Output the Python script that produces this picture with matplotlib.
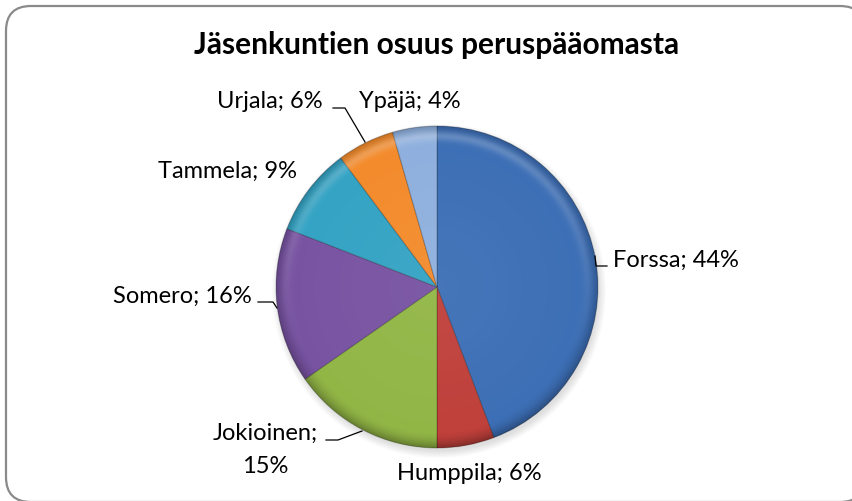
import numpy as np
import matplotlib
matplotlib.use("Agg")
import matplotlib.pyplot as plt
from matplotlib.patches import FancyBboxPatch, Circle

# chart data
kunnat = ["Forssa", "Humppila", "Jokioinen", "Somero", "Tammela", "Urjala", "Ypäjä"]
osuudet = [44.25, 5.75, 15.3, 15.6, 8.9, 5.75, 4.45]
pct_labels = [44, 6, 15, 16, 9, 6, 4]
colors = ["#3d6fb6", "#c0403b", "#92b646", "#7853a2", "#34a3c4", "#f38b2c", "#8fb0de"]
title = "Jäsenkuntien osuus peruspääomasta"

W, H = 853, 502
plt.rcParams['font.family'] = ['Lato', 'DejaVu Sans']

fig = plt.figure(figsize=(W / 100, H / 100), dpi=100)
ax = fig.add_axes([0, 0, 1, 1])
ax.set_xlim(0, W)
ax.set_ylim(0, H)
ax.set_aspect('equal')
ax.axis('off')

def py(y):
    # pixel row -> data y
    return H - y

# rounded frame
frame = FancyBboxPatch((6, py(503)), 859, 496, boxstyle="round,pad=0,rounding_size=25",
                       facecolor="white", edgecolor="#8a8a8a", linewidth=1.6, zorder=0)
ax.add_patch(frame)

cx, cy, R = 437, py(288), 161

# soft shadow under the pie
for k in range(8):
    ax.add_patch(Circle((cx + 2, cy - 4), R + 6 - k, facecolor="black",
                        alpha=0.015, edgecolor="none", zorder=1))

wedges, _ = ax.pie(osuudet, colors=colors, startangle=90, counterclock=False,
                   center=(cx, cy), radius=R,
                   wedgeprops=dict(edgecolor=(0, 0, 0, 0.22), linewidth=0.8))
for w in wedges:
    w.set_zorder(2)
ax.set_xlim(0, W)
ax.set_ylim(0, H)

# bevel-like shading over the pie
n = 500
gx = np.linspace(-1, 1, n)
X, Y = np.meshgrid(gx, gx[::-1])
r = np.sqrt(X ** 2 + Y ** 2)
dark = np.zeros((n, n, 4))
dark[..., 3] = 0.32 * np.clip((r - 0.9) / 0.1, 0, 1) ** 1.8 * (0.6 + 0.4 * np.clip(-Y, 0, 1))
light = np.ones((n, n, 4))
light[..., 3] = 0.22 * np.exp(-((r - 0.94) / 0.03) ** 2) * np.clip(0.3 + 0.7 * Y, 0, 1)
light[..., 3] += 0.05 * np.clip(1 - r, 0, 1)
clip = Circle((cx, cy), R, transform=ax.transData)
for img in (dark, light):
    im = ax.imshow(img, extent=(cx - R, cx + R, cy - R, cy + R), zorder=3,
                   interpolation='bilinear')
    im.set_clip_path(clip)

ax.text(436.5, py(54), title, ha='center', va='baseline', fontsize=21.5,
        fontweight='bold', color='black')

lab = [f"{k}; {p}%" for k, p in zip(kunnat, pct_labels)]
fs = 17
ax.text(613, py(267), lab[0], ha='left', va='baseline', fontsize=fs)
ax.text(469, py(480), lab[1], ha='center', va='baseline', fontsize=fs)
ax.text(265.5, py(440), kunnat[2] + ";", ha='center', va='baseline', fontsize=fs)
ax.text(265.5, py(473), f"{pct_labels[2]}%", ha='center', va='baseline', fontsize=fs)
ax.text(252, py(303), lab[3], ha='right', va='baseline', fontsize=fs)
ax.text(158, py(178), lab[4], ha='left', va='baseline', fontsize=fs)
ax.text(217, py(108), lab[5], ha='left', va='baseline', fontsize=fs)
ax.text(359, py(108), lab[6], ha='left', va='baseline', fontsize=fs)

# leader lines
leaders = [
    [(595, 257), (596, 267), (607, 267)],
    [(326, 441), (338, 441), (362, 432)],
    [(258, 303), (273, 303), (277, 309)],
    [(333, 109), (345, 109), (365, 143)],
]
for pts in leaders:
    xs = [p[0] for p in pts]
    ys = [py(p[1]) for p in pts]
    ax.plot(xs, ys, color='black', linewidth=0.9, zorder=4)

fig.savefig("out.png", dpi=100)
